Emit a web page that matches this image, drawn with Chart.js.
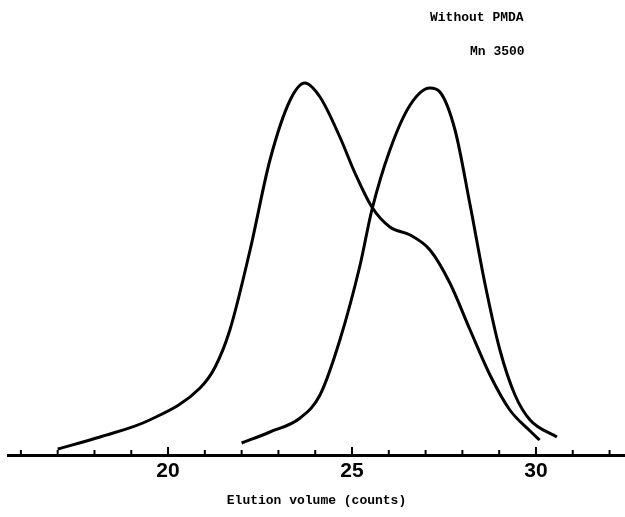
<!DOCTYPE html>
<html>
<head>
<meta charset="utf-8">
<script src="https://cdn.jsdelivr.net/npm/chart.js@4.4.0/dist/chart.umd.min.js"></script>
<style>
  html, body { margin: 0; padding: 0; background: #fff; }
  #wrap { width: 625px; height: 517px; position: relative; }
</style>
</head>
<body>
<div id="wrap"><canvas id="gpcChart"></canvas></div>
<script>
// Elution volume (counts) and detector response
const leftVol = [17.0, 18.15, 19.5, 20.87, 21.28, 21.68, 22.23, 22.77, 23.32, 23.72, 24.13, 24.67, 25.08, 25.54, 26.03, 26.58, 27.12, 27.66, 28.21, 28.75, 29.29, 29.84, 30.1];
const leftSignal = [6, 18, 35, 67, 88, 125, 205, 295, 355, 372, 358, 318, 282, 248, 228, 220, 205, 172, 125, 80, 45, 24, 15];

const rightVol = [22.0, 22.77, 23.59, 24.13, 24.67, 25.22, 25.54, 26.03, 26.58, 27.12, 27.39, 27.8, 28.21, 28.61, 29.02, 29.43, 29.84, 30.57];
const rightSignal = [12, 23, 37, 60, 115, 190, 245, 305, 350, 367, 363, 325, 250, 172, 105, 60, 35, 18];

const xTicks = [16, 17, 18, 19, 20, 21, 22, 23, 24, 25, 26, 27, 28, 29, 30, 31, 32];
const xLabels = [20, 25, 30];

const monoFont = "'Liberation Mono', 'DejaVu Sans Mono', monospace";

function toPoints(xs, ys) {
    return xs.map((x, i) => ({ x: x, y: ys[i] }));
}

// tick marks point up from the axis line, plus the two notes top right
const upTicks = {
    id: 'upTicks',
    afterDraw(chart) {
        const ctx = chart.ctx;
        const xs = chart.scales.x;
        const y0 = chart.chartArea.bottom;
        ctx.save();
        ctx.strokeStyle = '#000';
        ctx.lineWidth = 2;
        xTicks.forEach(v => {
            const px = xs.getPixelForValue(v);
            const h = v % 5 === 0 ? 8 : 5;
            ctx.beginPath();
            ctx.moveTo(px, y0);
            ctx.lineTo(px, y0 - h);
            ctx.stroke();
        });
        ctx.fillStyle = '#000';
        ctx.font = 'bold 13px ' + monoFont;
        ctx.textBaseline = 'middle';
        ctx.fillText('Without PMDA', 430, 18);
        ctx.fillText('Mn 3500', 470, 52);
        ctx.restore();
    }
};

new Chart(document.getElementById('gpcChart'), {
    type: 'line',
    data: {
        datasets: [{
            data: toPoints(leftVol, leftSignal),
            borderColor: '#000',
            borderWidth: 3,
            pointRadius: 0,
            cubicInterpolationMode: 'monotone',
            fill: false
        }, {
            data: toPoints(rightVol, rightSignal),
            borderColor: '#000',
            borderWidth: 3,
            pointRadius: 0,
            cubicInterpolationMode: 'monotone',
            fill: false
        }]
    },
    options: {
        responsive: true,
        maintainAspectRatio: false,
        animation: false,
        layout: { padding: { top: 55, left: 8, right: 0, bottom: 8 } },
        plugins: {
            legend: { display: false },
            tooltip: { enabled: false }
        },
        scales: {
            x: {
                type: 'linear',
                min: 15.65,
                max: 32.42,
                afterBuildTicks(scale) {
                    scale.ticks = xLabels.map(v => ({ value: v }));
                },
                afterFit(scale) {
                    scale.height = 54;
                },
                grid: { display: false, drawTicks: false },
                border: { display: true, color: '#000', width: 3 },
                ticks: {
                    color: '#000',
                    padding: 4,
                    maxRotation: 0,
                    font: { family: "'Liberation Sans', Arial, sans-serif", size: 21, weight: 'bold' }
                },
                title: {
                    display: true,
                    text: 'Elution volume (counts)',
                    color: '#000',
                    padding: { top: 4, bottom: 0 },
                    font: { family: monoFont, size: 13, weight: 'bold' }
                }
            },
            y: {
                display: false,
                min: 0,
                max: 400
            }
        }
    },
    plugins: [upTicks]
});
</script>
</body>
</html>
